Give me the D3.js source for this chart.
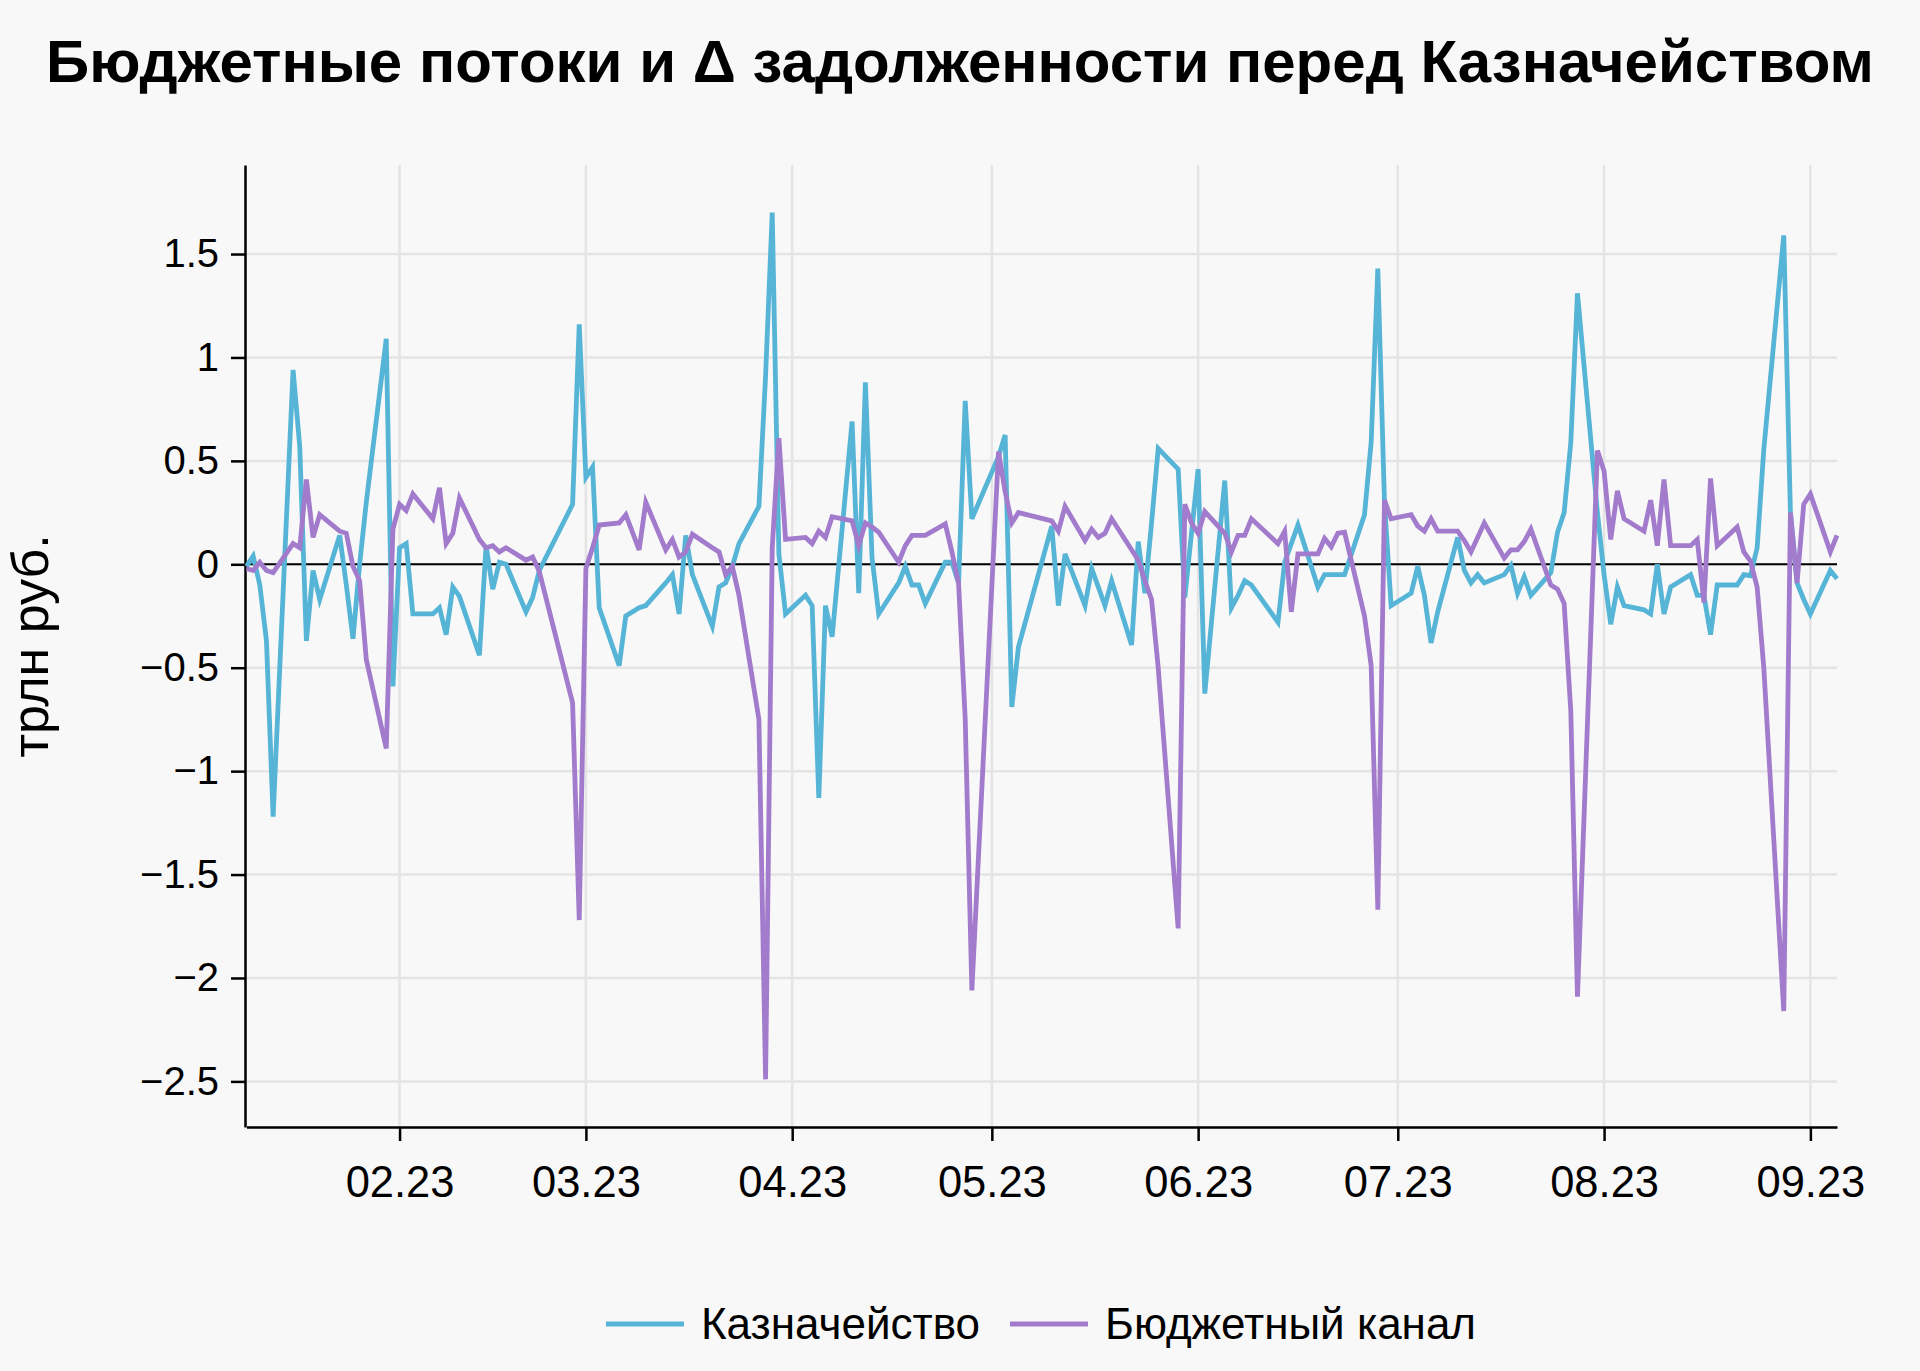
<!DOCTYPE html>
<html lang="ru">
<head>
<meta charset="UTF-8">
<title>Бюджетные потоки и Δ задолженности перед Казначейством</title>
<script src="https://d3js.org/d3.v7.min.js"></script>
<style>
  html, body { margin: 0; padding: 0; background: #f8f8f8; }
  svg { display: block; }
  svg text { font-family: 'Liberation Sans', Arial, Helvetica, sans-serif; fill: #000; }
</style>
</head>
<body>
<svg id="chart"></svg>
<script>
// рабочие дни 2023 (без праздников 23-24.02, 08.03, 01.05, 08-09.05, 12.06)
const dates = [
  "2023-01-09","2023-01-10","2023-01-11","2023-01-12","2023-01-13","2023-01-16","2023-01-17","2023-01-18","2023-01-19","2023-01-20",
  "2023-01-23","2023-01-24","2023-01-25","2023-01-26","2023-01-27","2023-01-30","2023-01-31",
  "2023-02-01","2023-02-02","2023-02-03","2023-02-06","2023-02-07","2023-02-08","2023-02-09","2023-02-10","2023-02-13","2023-02-14",
  "2023-02-15","2023-02-16","2023-02-17","2023-02-20","2023-02-21","2023-02-22","2023-02-27","2023-02-28",
  "2023-03-01","2023-03-02","2023-03-03","2023-03-06","2023-03-07","2023-03-09","2023-03-10","2023-03-13","2023-03-14","2023-03-15",
  "2023-03-16","2023-03-17","2023-03-20","2023-03-21","2023-03-22","2023-03-23","2023-03-24","2023-03-27","2023-03-28","2023-03-29",
  "2023-03-30","2023-03-31",
  "2023-04-03","2023-04-04","2023-04-05","2023-04-06","2023-04-07","2023-04-10","2023-04-11","2023-04-12","2023-04-13","2023-04-14",
  "2023-04-17","2023-04-18","2023-04-19","2023-04-20","2023-04-21","2023-04-24","2023-04-25","2023-04-26","2023-04-27","2023-04-28",
  "2023-05-02","2023-05-03","2023-05-04","2023-05-05","2023-05-10","2023-05-11","2023-05-12","2023-05-15","2023-05-16","2023-05-17",
  "2023-05-18","2023-05-19","2023-05-22","2023-05-23","2023-05-24","2023-05-25","2023-05-26","2023-05-29","2023-05-30","2023-05-31",
  "2023-06-01","2023-06-02","2023-06-05","2023-06-06","2023-06-07","2023-06-08","2023-06-09","2023-06-13","2023-06-14","2023-06-15",
  "2023-06-16","2023-06-19","2023-06-20","2023-06-21","2023-06-22","2023-06-23","2023-06-26","2023-06-27","2023-06-28","2023-06-29",
  "2023-06-30",
  "2023-07-03","2023-07-04","2023-07-05","2023-07-06","2023-07-07","2023-07-10","2023-07-11","2023-07-12","2023-07-13","2023-07-14",
  "2023-07-17","2023-07-18","2023-07-19","2023-07-20","2023-07-21","2023-07-24","2023-07-25","2023-07-26","2023-07-27","2023-07-28",
  "2023-07-31",
  "2023-08-01","2023-08-02","2023-08-03","2023-08-04","2023-08-07","2023-08-08","2023-08-09","2023-08-10","2023-08-11","2023-08-14",
  "2023-08-15","2023-08-16","2023-08-17","2023-08-18","2023-08-21","2023-08-22","2023-08-23","2023-08-24","2023-08-25","2023-08-28",
  "2023-08-29","2023-08-30","2023-08-31",
  "2023-09-01","2023-09-04","2023-09-05"
];

// Казначейство, трлн руб.
const treasury = [
  -0.01, 0.04, -0.1, -0.37, -1.22, 0.94, 0.57, -0.37, -0.03, -0.17,
  0.14, -0.1, -0.36, 0.0, 0.3, 1.09, -0.59,
  0.08, 0.10, -0.24, -0.24, -0.21, -0.34, -0.11, -0.155, -0.44, 0.09,
  -0.12, 0.01, 0.0, -0.23, -0.16, -0.03, 0.29, 1.16,
  0.42, 0.47, -0.21, -0.49, -0.25, -0.21, -0.2, -0.09, -0.05, -0.24,
  0.14, -0.05, -0.30, -0.11, -0.09, -0.01, 0.10, 0.28, 0.91, 1.70,
  0.05, -0.24,
  -0.15, -0.2, -1.13, -0.2, -0.35, 0.69, -0.14, 0.88, 0.03, -0.24,
  -0.09, -0.01, -0.1, -0.1, -0.19, 0.01, 0.01, -0.09, 0.79, 0.22,
  0.52, 0.625, -0.69, -0.40, 0.185, -0.2, 0.05, -0.2, -0.02, -0.11,
  -0.2, -0.08, -0.39, 0.11, -0.14, 0.2, 0.56, 0.46, -0.16, 0.15,
  0.46, -0.625, 0.405, -0.21, -0.15, -0.08, -0.1, -0.28, 0.01, 0.1,
  0.19, -0.11, -0.05, -0.05, -0.05, -0.05, 0.24, 0.59, 1.43, 0.3,
  -0.2,
  -0.14, -0.01, -0.15, -0.38, -0.23, 0.13, -0.03, -0.09, -0.05, -0.09,
  -0.05, -0.005, -0.14, -0.06, -0.15, -0.04, 0.155, 0.25, 0.59, 1.31,
  0.25,
  -0.05, -0.29, -0.11, -0.2, -0.22, -0.24, 0.0, -0.24, -0.11, -0.05,
  -0.15, -0.15, -0.34, -0.1, -0.1, -0.05, -0.055, 0.08, 0.555, 1.59,
  0.25, -0.09, -0.17,
  -0.24, -0.03, -0.07
];

// Бюджетный канал, трлн руб.
const budget = [
  -0.02, -0.03, 0.01, -0.03, -0.04, 0.10, 0.08, 0.41, 0.13, 0.24,
  0.16, 0.15, -0.01, -0.08, -0.46, -0.89, 0.17,
  0.29, 0.26, 0.34, 0.22, 0.37, 0.10, 0.15, 0.32, 0.12, 0.08,
  0.09, 0.06, 0.08, 0.02, 0.035, -0.035, -0.67, -1.72,
  -0.02, 0.08, 0.19, 0.2, 0.24, 0.07, 0.30, 0.07, 0.12, 0.035,
  0.06, 0.145, 0.08, 0.06, -0.05, -0.01, -0.15, -0.75, -2.49, 0.08,
  0.61, 0.12,
  0.13, 0.1, 0.16, 0.13, 0.23, 0.21, 0.09, 0.20, 0.18, 0.155,
  0.01, 0.09, 0.14, 0.14, 0.14, 0.195, 0.06, -0.09, -0.75, -2.06,
  0.545, 0.35, 0.20, 0.25, 0.21, 0.16, 0.28, 0.115, 0.17, 0.13,
  0.15, 0.22, 0.07, 0.02, -0.08, -0.17, -0.5, -1.76, 0.29, 0.2,
  0.15, 0.255, 0.15, 0.06, 0.14, 0.14, 0.22, 0.1, 0.16, -0.23,
  0.05, 0.05, 0.125, 0.085, 0.15, 0.155, -0.25, -0.49, -1.67, 0.31,
  0.22,
  0.24, 0.185, 0.16, 0.22, 0.16, 0.16, 0.115, 0.06, 0.13, 0.2,
  0.03, 0.07, 0.07, 0.11, 0.17, -0.1, -0.12, -0.19, -0.71, -2.09,
  0.55,
  0.45, 0.12, 0.355, 0.22, 0.16, 0.31, 0.09, 0.41, 0.09, 0.09,
  0.12, -0.185, 0.415, 0.09, 0.18, 0.06, 0.015, -0.11, -0.5, -2.16,
  0.25, -0.09, 0.29,
  0.34, 0.06, 0.14
];

const seriesNames = ["Казначейство", "Бюджетный канал"];
const yTicks = [1.5, 1, 0.5, 0, -0.5, -1, -1.5, -2, -2.5];
const titleText = "Бюджетные потоки и Δ задолженности перед Казначейством";
const yLabel = "трлн руб.";

const colors = ["#56b4d6", "#a27bcc"];
const width = 1920, height = 1371;
const margin = {top: 165, right: 83, bottom: 244, left: 245};
const innerW = width - margin.left - margin.right;
const innerH = height - margin.top - margin.bottom;

const parse = d3.timeParse("%Y-%m-%d");
const series = [treasury, budget].map((vals, k) => ({
  name: seriesNames[k],
  color: colors[k],
  values: vals.map((v, i) => ({date: parse(dates[i]), v: v}))
}));

const svg = d3.select("#chart")
  .attr("width", width)
  .attr("height", height);

svg.append("rect").attr("width", width).attr("height", height).attr("fill", "#f8f8f8");

const allVals = treasury.concat(budget);
const ext = d3.extent(allVals);
const pad = (ext[1] - ext[0]) * 0.055;

const x = d3.scaleTime()
  .domain(d3.extent(dates, d => parse(d)))
  .range([1.5, innerW]);

const y = d3.scaleLinear()
  .domain([ext[0] - pad, ext[1] + pad])
  .range([innerH, 0]);

const g = svg.append("g").attr("transform", `translate(${margin.left},${margin.top})`);

const monthTicks = d3.timeMonth.range(d3.timeMonth.ceil(x.domain()[0]), x.domain()[1]);

// сетка
g.append("g").selectAll("line.hgrid").data(yTicks).join("line")
  .attr("x1", 0).attr("x2", innerW)
  .attr("y1", d => y(d)).attr("y2", d => y(d))
  .attr("stroke", "#e4e4e4").attr("stroke-width", 2.5);

g.append("g").selectAll("line.vgrid").data(monthTicks).join("line")
  .attr("x1", d => x(d)).attr("x2", d => x(d))
  .attr("y1", 0).attr("y2", innerH)
  .attr("stroke", "#e4e4e4").attr("stroke-width", 2.5);

// ноль
g.append("line")
  .attr("x1", 0).attr("x2", innerW)
  .attr("y1", y(0)).attr("y2", y(0))
  .attr("stroke", "#000").attr("stroke-width", 2);

// оси
const xAxis = g.append("g")
  .attr("transform", `translate(0,${innerH})`)
  .call(d3.axisBottom(x).tickValues(monthTicks).tickFormat(d3.timeFormat("%m.%y"))
    .tickSize(14).tickSizeOuter(0).tickPadding(25));

const yAxis = g.append("g")
  .call(d3.axisLeft(y).tickValues(yTicks).tickFormat(d3.format("~g"))
    .tickSize(14).tickSizeOuter(0).tickPadding(12));

[xAxis, yAxis].forEach(a => {
  a.select(".domain").attr("stroke", "#000").attr("stroke-width", 2.5);
  a.selectAll(".tick line").attr("stroke", "#000").attr("stroke-width", 2.5);
});
xAxis.selectAll("text").attr("font-size", 43.5);
yAxis.selectAll("text").attr("font-size", 40);

// линии
const line = d3.line().x(d => x(d.date)).y(d => y(d.v));
g.append("g").selectAll("path.series").data(series).join("path")
  .attr("class", "series")
  .attr("d", d => line(d.values))
  .attr("fill", "none")
  .attr("stroke", d => d.color)
  .attr("stroke-width", 4.8);

// заголовок
svg.append("text")
  .attr("x", width / 2).attr("y", 82)
  .attr("text-anchor", "middle")
  .attr("font-size", 60).attr("font-weight", "bold")
  .text(titleText);

// подпись оси Y
svg.append("text")
  .attr("transform", `translate(48,${margin.top + innerH / 2}) rotate(-90)`)
  .attr("text-anchor", "middle")
  .attr("font-size", 52)
  .text(yLabel);

// легенда
const legend = svg.append("g");
let lx = 0;
series.forEach((s, i) => {
  const item = legend.append("g").attr("transform", `translate(${lx},0)`);
  item.append("line").attr("x1", 0).attr("x2", 78).attr("y1", 0).attr("y2", 0)
    .attr("stroke", s.color).attr("stroke-width", 5);
  const t = item.append("text").attr("x", 95).attr("dy", "0.35em")
    .attr("font-size", 44).text(s.name);
  lx += 95 + t.node().getComputedTextLength() + 30;
});
const legW = lx - 30;
legend.attr("transform", `translate(${margin.left + innerW / 2 - legW / 2},1324)`);
</script>
</body>
</html>
